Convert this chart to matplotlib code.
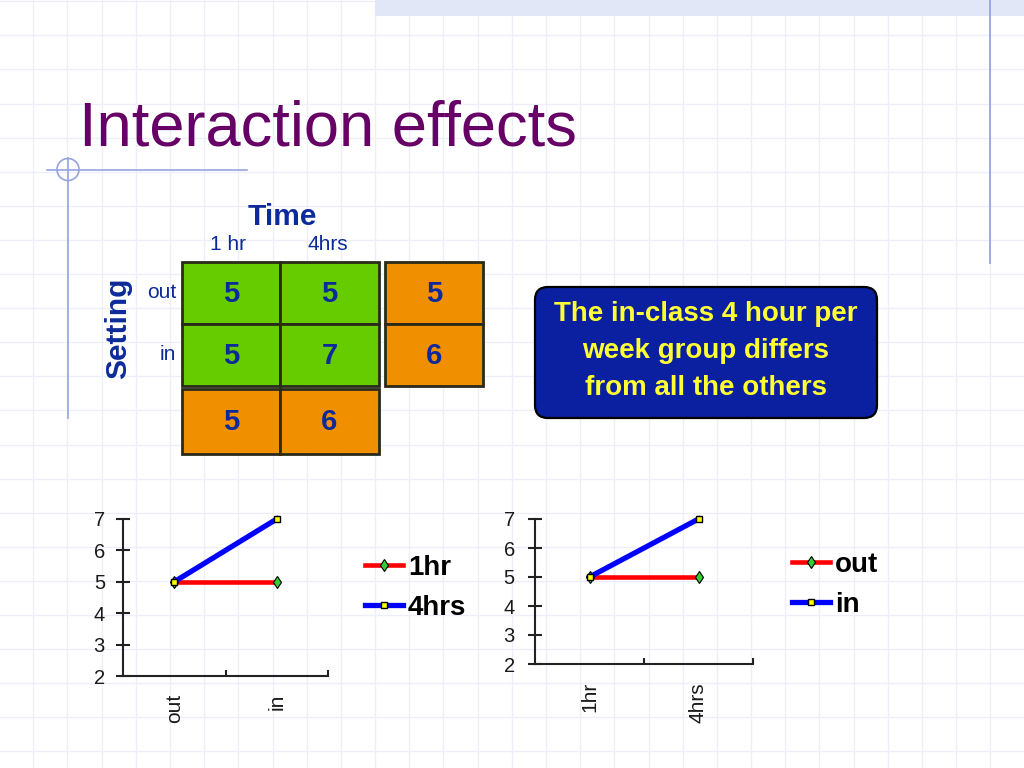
import numpy as np
import matplotlib
matplotlib.use('Agg')
import matplotlib.pyplot as plt
from matplotlib.patches import Rectangle, FancyBboxPatch, Circle

# ---- data ----
title = 'Interaction effects'
time_levels = ['1 hr', '4hrs']
setting_levels = ['out', 'in']
cell_means = [[5, 5], [5, 7]]   # rows: out, in ; cols: 1 hr, 4hrs
row_means = [5, 6]
col_means = [5, 6]
note_lines = ['The in-class 4 hour per', 'week group differs', 'from all the others']

plot1_x = ['out', 'in']
plot1_1hr = [5, 5]
plot1_4hrs = [5, 7]
plot2_x = ['1hr', '4hrs']
plot2_out = [5, 5]
plot2_in = [5, 7]
y_ticks = [2, 3, 4, 5, 6, 7]

W, H = 1024, 768
BLUE_TXT = '#0d2a9a'
SANS = ['Liberation Sans', 'DejaVu Sans']

fig = plt.figure(figsize=(W / 100, H / 100), dpi=100)
fig.patch.set_facecolor('white')

bg = fig.add_axes([0, 0, 1, 1])
bg.set_xlim(0, W)
bg.set_ylim(H, 0)
bg.axis('off')

# slide background grid
for x in np.arange(33.3, W, 34.18):
    bg.plot([x, x], [0, H], color='#eceef8', lw=0.9, zorder=0)
for y in np.arange(1.2, H, 34.1):
    bg.plot([0, W], [y, y], color='#eceef8', lw=0.9, zorder=0)

# decorations
bg.add_patch(Rectangle((375, 0), W - 375, 16, facecolor='#e2e7f8', edgecolor='none', zorder=1))
bg.plot([990, 990], [0, 263], color='#97a4e0', lw=1.3, zorder=2)
bg.plot([47, 247], [169.5, 169.5], color='#97a4e0', lw=1.2, zorder=2)
bg.plot([68, 68], [158, 418], color='#97a4e0', lw=1.2, zorder=2)
bg.add_patch(Circle((68, 169.5), 11, facecolor='none', edgecolor='#97a4e0', lw=1.2, zorder=2))

bg.text(79, 145, title, family=SANS, fontsize=45.5, color='#660066',
        ha='left', va='baseline', zorder=3)

# ---- means table ----
col_x = [182, 280, 379]
row_y = [262, 324, 386]
edge = '#2a2a1a'
for i in range(2):
    for j in range(2):
        bg.add_patch(Rectangle((col_x[j], row_y[i]), col_x[j + 1] - col_x[j], row_y[i + 1] - row_y[i],
                               facecolor='#66cc00', edgecolor=edge, lw=2, zorder=3))
        bg.text((col_x[j] + col_x[j + 1]) / 2, (row_y[i] + row_y[i + 1]) / 2 + 1, str(cell_means[i][j]),
                family=SANS, fontsize=21, weight='bold', color=BLUE_TXT, ha='center', va='center', zorder=4)
    # row margin
    bg.add_patch(Rectangle((385, row_y[i]), 98, row_y[i + 1] - row_y[i],
                           facecolor='#f09000', edgecolor=edge, lw=2, zorder=3))
    bg.text(434, (row_y[i] + row_y[i + 1]) / 2 + 1, str(row_means[i]),
            family=SANS, fontsize=21, weight='bold', color=BLUE_TXT, ha='center', va='center', zorder=4)
for j in range(2):
    bg.add_patch(Rectangle((col_x[j], 389), col_x[j + 1] - col_x[j], 65,
                           facecolor='#f09000', edgecolor=edge, lw=2, zorder=3))
    bg.text((col_x[j] + col_x[j + 1]) / 2, 422, str(col_means[j]),
            family=SANS, fontsize=21, weight='bold', color=BLUE_TXT, ha='center', va='center', zorder=4)

bg.text(282, 217, 'Time', family=SANS, fontsize=21.5, weight='bold', color=BLUE_TXT,
        ha='center', va='center', zorder=4)
for j, lab in enumerate(time_levels):
    bg.text([228, 328][j], 245, lab, family=SANS, fontsize=15, color=BLUE_TXT,
            ha='center', va='center', zorder=4)
bg.text(118, 328, 'Setting', family=SANS, fontsize=21.5, weight='bold', color=BLUE_TXT,
        rotation=90, ha='center', va='center', zorder=4)
for i, lab in enumerate(setting_levels):
    bg.text(176, [293, 355][i], lab, family=SANS, fontsize=15, color=BLUE_TXT,
            ha='right', va='center', zorder=4)

# ---- callout ----
bg.add_patch(FancyBboxPatch((535, 287), 342, 131, boxstyle='round,pad=0,rounding_size=13',
                            facecolor='#0a20a0', edgecolor='black', lw=1.6, zorder=3))
for k, line in enumerate(note_lines):
    bg.text(706, 314 + 37 * k, line, family=SANS, fontsize=20, weight='bold', color='#ffff33',
            ha='center', va='center', zorder=4)


# ---- interaction plots ----
def px_axes(x0, y0, x1, y1):
    return fig.add_axes([x0 / W, 1 - y1 / H, (x1 - x0) / W, (y1 - y0) / H])


def interaction_plot(box, xlabels, s1, s2, names, leg_anchor, ypad):
    ax = px_axes(*box)
    ax.patch.set_alpha(0)
    xs = np.arange(len(xlabels)) + 0.5
    l1, = ax.plot(xs, s1, color='#ff0000', lw=3.3, marker='d', ms=6,
                  mfc='#33cc33', mec='black', mew=0.8, clip_on=False, zorder=3)
    l2, = ax.plot(xs, s2, color='#0000ff', lw=3.8, marker='s', ms=5,
                  mfc='#ffff00', mec='black', mew=1.0, clip_on=False, zorder=4)
    ax.set_xlim(0, len(xlabels))
    ax.set_ylim(min(y_ticks), max(y_ticks))
    for s in ['top', 'right']:
        ax.spines[s].set_visible(False)
    for s in ['left', 'bottom']:
        ax.spines[s].set_linewidth(1.5)
        ax.spines[s].set_color('#222222')
    ax.set_yticks(y_ticks)
    ax.set_yticklabels([str(v) for v in y_ticks], family=SANS, fontsize=14.5, color='#1a1a1a')
    ax.tick_params(axis='y', direction='inout', length=10, width=1.5, color='#222222', pad=ypad)
    ax.set_xticks([1, 2])
    ax.set_xticklabels(['', ''])
    ax.tick_params(axis='x', which='major', direction='in', length=4.5, width=1.5, color='#222222')
    ax.set_xticks(xs, minor=True)
    ax.set_xticklabels(xlabels, minor=True, family=SANS, fontsize=15, color='#1a1a1a',
                       rotation=90, va='top')
    ax.tick_params(axis='x', which='minor', length=0, pad=13)
    fig.legend([l1, l2], names, loc='upper left', bbox_to_anchor=leg_anchor,
               frameon=False, prop={'family': SANS, 'size': 20, 'weight': 'bold'},
               handlelength=1.37, handletextpad=0.18, labelspacing=0.5,
               borderpad=0, borderaxespad=0, numpoints=1)
    return ax


interaction_plot((123, 519, 328, 676), plot1_x, plot1_1hr, plot1_4hrs, ['1hr', '4hrs'],
                 (365 / W, 1 - 555 / H), 8)
interaction_plot((535, 519, 753, 664), plot2_x, plot2_out, plot2_in, ['out', 'in'],
                 (792 / W, 1 - 552 / H), 9.5)

fig.savefig('out.png', dpi=100)
